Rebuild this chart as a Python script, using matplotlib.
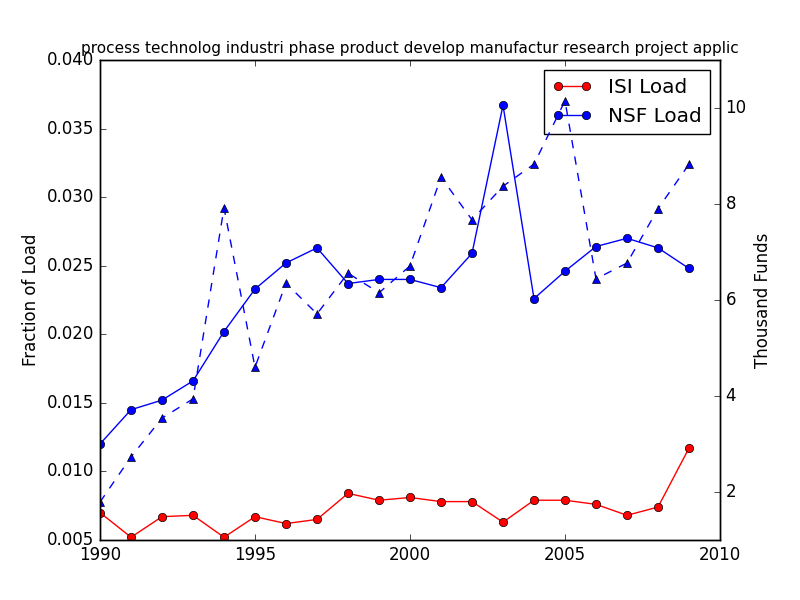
import numpy as np
import matplotlib
matplotlib.use('Agg')
import matplotlib.pyplot as plt

plt.style.use('classic')
plt.rcParams['axes.formatter.useoffset'] = False

years = np.arange(1990, 2010)

isi_load = [0.0070, 0.0052, 0.0067, 0.0068, 0.0052, 0.0067, 0.0062, 0.0065, 0.0084, 0.0079,
            0.0081, 0.0078, 0.0078, 0.0063, 0.0079, 0.0079, 0.0076, 0.0068, 0.0074, 0.0117]
nsf_load = [0.0120, 0.0145, 0.0152, 0.0166, 0.0202, 0.0233, 0.0252, 0.0263, 0.0237, 0.0240,
            0.0240, 0.0234, 0.0259, 0.0367, 0.0226, 0.0246, 0.0264, 0.0270, 0.0263, 0.0248]
funds = [1.79, 2.73, 3.54, 3.94, 7.92, 4.60, 6.35, 5.71, 6.56, 6.15,
         6.71, 8.56, 7.67, 8.37, 8.83, 10.15, 6.44, 6.77, 7.90, 8.83]

title = 'process technolog industri phase product develop manufactur research project applic'

fig = plt.figure(figsize=(8, 6), dpi=100)
ax = fig.add_subplot(111)
fig.subplots_adjust(left=0.125, right=0.9, bottom=0.1, top=0.9)

ax.plot(years, isi_load, 'ro-', label='ISI Load')
ax.plot(years, nsf_load, 'bo-', label='NSF Load')
ax.set_ylabel('Fraction of Load')
ax.set_xlim(1990, 2010)
ax.set_ylim(0.005, 0.040)
ax.set_title(title, fontsize=11)
ax.legend(loc='upper right')

# funds on the second axis
ax2 = ax.twinx()
ax2.plot(years, funds, 'b^--')
ax2.set_ylabel('Thousand Funds')
ax2.set_ylim(1, 11)
ax2.set_yticks([2, 4, 6, 8, 10])
ax2.set_xlim(1990, 2010)

fig.savefig('out.png', dpi=100)
